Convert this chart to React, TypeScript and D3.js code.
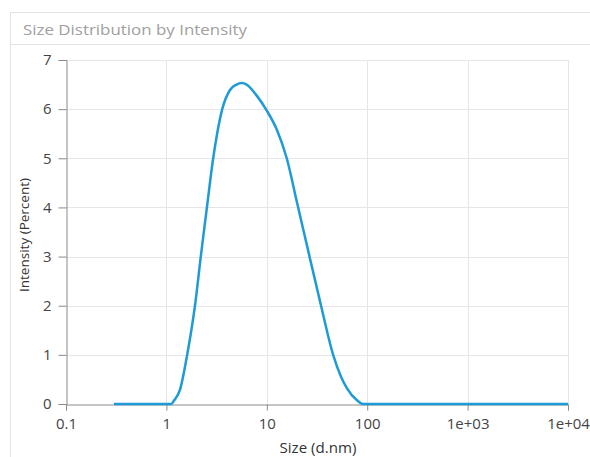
import React, { useEffect, useRef } from "react";
import * as d3 from "d3";

// size bins (d.nm) and intensity (%)
const sizes = [
  0.3, 1.0, 1.12, 1.2, 1.36, 1.61, 1.94, 2.2, 2.55, 2.9, 3.2, 3.6, 4.3, 5.0, 5.6, 6.3, 7.9, 10,
  12.6, 15.8, 20, 26.3, 34.7, 45.8, 55, 62.5, 78.7, 91, 100, 10000,
];
const intensity = [
  0, 0, 0, 0.08, 0.28, 1, 2.05, 3.0, 4.05, 4.95, 5.5, 6.0, 6.39, 6.5, 6.53, 6.5, 6.28, 5.97, 5.58,
  5.0, 4.1, 3.05, 2.0, 1.0, 0.55, 0.33, 0.08, 0, 0, 0,
];
const xTicks = [0.1, 1, 10, 100, 1000, 10000];
const xTickLabels = ["0.1", "1", "10", "100", "1e+03", "1e+04"];
const yTicks = [0, 1, 2, 3, 4, 5, 6, 7];

const W = 590;
const H = 457;
const FONT = "'Open Sans', 'Segoe UI', sans-serif";

const SizeChart = () => {
  const ref = useRef<SVGSVGElement>(null);

  useEffect(() => {
    const svg = d3.select(ref.current);
    svg.selectAll("*").remove();

    const margin = { top: 60, left: 66, right: 22, bottom: 53 };
    const x = d3.scaleLog().domain([0.1, 10000]).range([margin.left, W - margin.right]);
    const y = d3.scaleLinear().domain([0, 7]).range([H - margin.bottom, margin.top]);

    // panel frame + header
    svg
      .append("rect")
      .attr("x", 10.5)
      .attr("y", 12.5)
      .attr("width", 600)
      .attr("height", 460)
      .attr("fill", "#fff")
      .attr("stroke", "#e3e3e3");
    svg
      .append("line")
      .attr("x1", 10)
      .attr("x2", W)
      .attr("y1", 44.5)
      .attr("y2", 44.5)
      .attr("stroke", "#e3e3e3");
    svg
      .append("text")
      .attr("x", 23)
      .attr("y", 35)
      .attr("font-family", FONT)
      .attr("font-size", 15)
      .attr("textLength", 224)
      .attr("lengthAdjust", "spacingAndGlyphs")
      .attr("fill", "#a0a0a0")
      .text("Size Distribution by Intensity");

    // grid
    const grid = svg.append("g").attr("stroke", "#e6e6e6").attr("stroke-width", 1);
    grid
      .selectAll(".gx")
      .data(xTicks.slice(1))
      .enter()
      .append("line")
      .attr("x1", (d) => Math.round(x(d)) + 0.5)
      .attr("x2", (d) => Math.round(x(d)) + 0.5)
      .attr("y1", y(7))
      .attr("y2", y(0));
    grid
      .selectAll(".gy")
      .data(yTicks.slice(1))
      .enter()
      .append("line")
      .attr("x1", x(0.1))
      .attr("x2", x(10000))
      .attr("y1", (d) => Math.round(y(d)) + 0.5)
      .attr("y2", (d) => Math.round(y(d)) + 0.5);

    // axes
    const xAxis = svg
      .append("g")
      .attr("transform", `translate(0,${Math.round(y(0)) + 0.5})`)
      .call(
        d3
          .axisBottom(x)
          .tickValues(xTicks)
          .tickFormat((d, i) => xTickLabels[i])
          .tickSizeOuter(0)
          .tickSize(6)
          .tickPadding(8)
      );
    const yAxis = svg
      .append("g")
      .attr("transform", `translate(${Math.round(x(0.1)) + 0.5},0)`)
      .call(
        d3
          .axisLeft(y)
          .tickValues(yTicks)
          .tickFormat(d3.format("d"))
          .tickSizeOuter(0)
          .tickSize(8)
          .tickPadding(7)
      );
    [xAxis, yAxis].forEach((g) => {
      g.selectAll("path, line").attr("stroke", "#8a8a8a");
      g.selectAll("text").attr("font-family", FONT).attr("font-size", 15).attr("fill", "#444");
    });

    // curve
    const line = d3
      .line<number>()
      .x((d, i) => x(sizes[i]))
      .y((d) => y(d))
      .curve(d3.curveMonotoneX);
    svg
      .append("path")
      .datum(intensity)
      .attr("d", line)
      .attr("fill", "none")
      .attr("stroke", "#1e9ad6")
      .attr("stroke-width", 2.5);

    // axis titles
    svg
      .append("text")
      .attr("transform", `translate(29,${(y(0) + y(7)) / 2 + 3}) rotate(-90)`)
      .attr("text-anchor", "middle")
      .attr("font-family", FONT)
      .attr("font-size", 13)
      .attr("textLength", 114)
      .attr("lengthAdjust", "spacingAndGlyphs")
      .attr("fill", "#333")
      .text("Intensity (Percent)");
    svg
      .append("text")
      .attr("x", 318)
      .attr("y", 453)
      .attr("text-anchor", "middle")
      .attr("font-family", FONT)
      .attr("font-size", 14)
      .attr("textLength", 77)
      .attr("lengthAdjust", "spacingAndGlyphs")
      .attr("fill", "#333")
      .text("Size (d.nm)");
  }, []);

  return (
    <svg
      ref={ref}
      width={W}
      height={H}
      style={{ position: "absolute", left: 0, top: 0, display: "block" }}
    ></svg>
  );
};

export default function App() {
  return <SizeChart />;
}
